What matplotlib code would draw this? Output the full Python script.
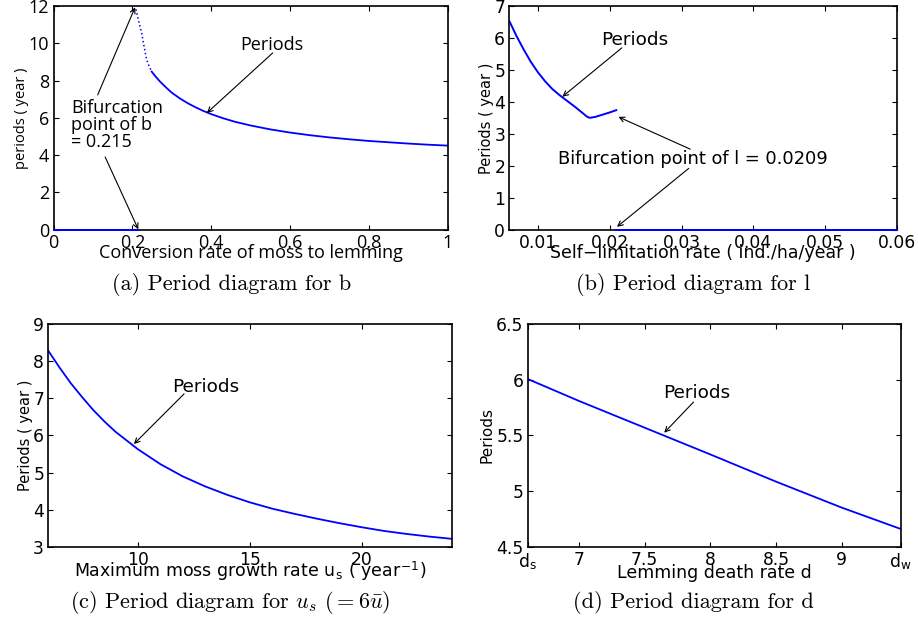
import matplotlib
matplotlib.use("Agg")
import matplotlib.pyplot as plt

plt.rcParams['mathtext.fontset'] = 'cm'

# (a) period vs conversion rate b
b_zero_x = [0.0, 0.215]
b_zero_y = [0.0, 0.0]
b_dot_x = [0.209, 0.216, 0.2237, 0.230, 0.2364, 0.243, 0.249]
b_dot_y = [11.82, 11.2, 10.54, 9.8, 9.1, 8.75, 8.48]
b_x = [0.249, 0.26, 0.27, 0.28, 0.29, 0.30, 0.32, 0.34, 0.36, 0.38, 0.40, 0.43,
       0.46, 0.50, 0.55, 0.60, 0.65, 0.70, 0.75, 0.80, 0.85, 0.90, 0.95, 1.0]
b_y = [8.48, 8.19, 7.95, 7.74, 7.54, 7.35, 7.05, 6.79, 6.57, 6.37, 6.20, 5.98,
       5.79, 5.59, 5.38, 5.21, 5.07, 4.95, 4.85, 4.76, 4.69, 4.62, 4.56, 4.51]

# (b) period vs self-limitation rate l
l_x = [0.006, 0.007, 0.008, 0.009, 0.010, 0.011, 0.012, 0.013, 0.014, 0.015,
       0.016, 0.0168, 0.0172, 0.018, 0.019, 0.020, 0.0209]
l_y = [6.53, 6.06, 5.64, 5.25, 4.92, 4.64, 4.40, 4.21, 4.04, 3.87,
       3.69, 3.54, 3.50, 3.53, 3.60, 3.67, 3.74]
l_zero_x = [0.0209, 0.06]
l_zero_y = [0.0, 0.0]

# (c) period vs maximum moss growth rate u_s
u_x = [6, 6.5, 7, 7.5, 8, 8.5, 9, 10, 11, 12, 13, 14, 15, 16, 17, 18, 19, 20, 21, 22, 23, 24]
u_y = [8.28, 7.83, 7.41, 7.04, 6.69, 6.38, 6.10, 5.63, 5.23, 4.90, 4.63, 4.40, 4.20,
       4.03, 3.89, 3.76, 3.64, 3.53, 3.43, 3.35, 3.28, 3.22]

# (d) period vs lemming death rate d
d_s, d_w = 6.61, 9.45
d_x = [d_s, 7.0, 7.5, 8.0, 8.5, 9.0, d_w]
d_y = [6.007, 5.81, 5.57, 5.33, 5.086, 4.853, 4.661]

BLUE = (0, 0, 1)
SANS = 'DejaVu Sans'
LUC = 'Open Sans'


def style_axes(ax, family, tsize):
    ax.tick_params(direction='in', top=True, right=True, length=3.5, width=0.8,
                   labelsize=tsize, pad=3)
    for lab in ax.get_xticklabels() + ax.get_yticklabels():
        lab.set_family(family)
    for s in ax.spines.values():
        s.set_linewidth(1.2)


def arrow(ax, tip, tail):
    ax.annotate('', xy=tip, xytext=tail,
                arrowprops=dict(arrowstyle='->', color='k', lw=0.8,
                                shrinkA=0, shrinkB=0, mutation_scale=9))


fig = plt.figure(figsize=(9.18, 6.22), dpi=100)

# ---- (a)
ax = fig.add_axes([0.0583, 0.6307, 0.4294, 0.3597])
ax.plot(b_zero_x, b_zero_y, color=BLUE, lw=1.4, zorder=3, clip_on=False)
ax.plot(b_dot_x, b_dot_y, color=BLUE, lw=1.1, ls=':')
ax.plot(b_x, b_y, color=BLUE, lw=1.3)
ax.set_xlim(0, 1)
ax.set_ylim(0, 12)
ax.set_xticks([0, 0.2, 0.4, 0.6, 0.8, 1])
ax.set_xticklabels(['0', '0.2', '0.4', '0.6', '0.8', '1'])
ax.set_yticks(range(0, 13, 2))
style_axes(ax, LUC, 13)
ax.set_xlabel('Conversion rate of moss to lemming', family=LUC, fontsize=13, labelpad=-6)
ax.set_ylabel('periods ( year )', family=LUC, fontsize=10.5, labelpad=0)
ax.text(0.554, 9.91, 'Periods', family=LUC, fontsize=13, ha='center', va='center')
arrow(ax, (0.389, 6.26), (0.556, 9.48))
ax.text(0.044, 5.62, 'Bifurcation\npoint of b\n= 0.215', family=LUC, fontsize=13,
        ha='left', va='center', linespacing=0.95)
arrow(ax, (0.207, 11.93), (0.112, 7.23))
arrow(ax, (0.215, 0.02), (0.131, 3.9))

# ---- (b)
ax = fig.add_axes([0.5548, 0.6307, 0.4223, 0.3597])
ax.plot(l_x, l_y, color=BLUE, lw=1.4)
ax.plot(l_zero_x, l_zero_y, color=BLUE, lw=1.4, zorder=3, clip_on=False)
ax.set_xlim(0.006, 0.06)
ax.set_ylim(0, 7)
ax.set_xticks([0.01, 0.02, 0.03, 0.04, 0.05, 0.06])
ax.set_xticklabels(['0.01', '0.02', '0.03', '0.04', '0.05', '0.06'])
ax.set_yticks(range(0, 8))
style_axes(ax, SANS, 12.3)
ax.set_xlabel('Self\u2212limitation rate ( ind./ha/year )', family=SANS, fontsize=12.5, labelpad=-6)
ax.set_ylabel('Periods ( year )', family=SANS, fontsize=10.5, labelpad=0)
ax.text(0.02348, 5.93, 'Periods', family=SANS, fontsize=13.3, ha='center', va='center')
arrow(ax, (0.01339, 4.16), (0.02168, 5.69))
ax.text(0.01283, 2.21, 'Bifurcation point of l = 0.0209', family=SANS, fontsize=12.9,
        ha='left', va='center')
arrow(ax, (0.0212, 3.53), (0.0312, 2.52))
arrow(ax, (0.021, 0.09), (0.031, 1.92))

# ---- (c)
ax = fig.add_axes([0.0526, 0.1206, 0.4394, 0.3585])
ax.plot(u_x, u_y, color=BLUE, lw=1.3)
ax.set_xlim(6, 24)
ax.set_ylim(3, 9)
ax.set_xticks([10, 15, 20])
ax.set_yticks(range(3, 10))
style_axes(ax, SANS, 12.3)
ax.set_xlabel(r'Maximum moss growth rate u$_\mathregular{s}$ ( year$^\mathregular{-1}$)',
              family=SANS, fontsize=12.5, labelpad=-7)
ax.set_ylabel('Periods ( year )', family=SANS, fontsize=10.5, labelpad=0)
ax.text(13.02, 7.31, 'Periods', family=SANS, fontsize=13.3, ha='center', va='center')
arrow(ax, (9.82, 5.77), (12.06, 7.12))

# ---- (d)
ax = fig.add_axes([0.5748, 0.1206, 0.4066, 0.3585])
ax.plot(d_x, d_y, color=BLUE, lw=1.3)
ax.set_xlim(d_s, d_w)
ax.set_ylim(4.5, 6.5)
ax.set_xticks([d_s, 7, 7.5, 8, 8.5, 9, d_w])
ax.set_xticklabels([r'd$_\mathregular{s}$', '7', '7.5', '8', '8.5', '9', r'd$_\mathregular{w}$'])
ax.set_yticks([4.5, 5, 5.5, 6, 6.5])
ax.set_yticklabels(['4.5', '5', '5.5', '6', '6.5'])
style_axes(ax, SANS, 12.3)
ax.set_xlabel('Lemming death rate d', family=SANS, fontsize=12.5, labelpad=-6)
ax.set_ylabel('Periods', family=SANS, fontsize=11, labelpad=1)
ax.text(7.898, 5.884, 'Periods', family=SANS, fontsize=13.3, ha='center', va='center')
arrow(ax, (7.649, 5.525), (7.872, 5.80))

# ---- captions
cap = dict(family='cmr10', fontsize=16, ha='center', va='center')
fig.text(232 / 918, 1 - 285 / 622, '(a) Period diagram for b', **cap)
fig.text(693 / 918, 1 - 285 / 622, '(b) Period diagram for l', **cap)
fig.text(230 / 918, 1 - 603 / 622, r'(c) Period diagram for $u_s$ $(=6\bar{u})$', **cap)
fig.text(693 / 918, 1 - 603 / 622, '(d) Period diagram for d', **cap)

fig.savefig('out.png', dpi=100)
